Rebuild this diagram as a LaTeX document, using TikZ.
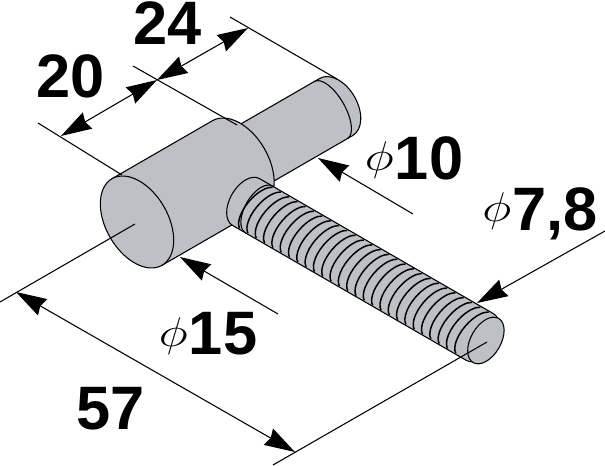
\documentclass[tikz,border=0pt]{standalone}
\usepackage{fontspec}
\setmainfont{Liberation Sans}
\usetikzlibrary{arrows.meta}
\definecolor{Gr}{HTML}{BDC0C6}
\newcommand{\Dia}{\raisebox{6.5pt}{\scalebox{1.5}[1.25]{\Huge$\phi$}}\hspace{1pt}}
\tikzset{
	Fl/.tip={Stealth[length=23pt,width=14pt,inset=2pt]},
	piece/.style={draw=black,fill=Gr,line width=0.8pt,line join=round},
	trait/.style={draw=black,line width=0.8pt},
	filet/.style={draw=black,line width=1.1pt},
	cote/.style={font=\fontsize{46}{46}\selectfont\bfseries,inner sep=0pt}
}
\begin{document}
\begin{tikzpicture}[x=0.75pt,y=-0.75pt]
	\useasboundingbox (0,0) rectangle (605,466);
	\begin{scope}[shift={(137,222)},rotate=30]
		\path[piece] (110,-33) -- (230,-33) arc[start angle=-90,end angle=90,x radius=21,y radius=33] -- (110,33) -- cycle;
		\path[trait] (224,-33) arc[start angle=-90,end angle=90,x radius=14,y radius=33];
		\path[piece] (0,-50) -- (116,-50) arc[start angle=-90,end angle=90,x radius=31,y radius=50] -- (0,50) -- cycle;
		\path[piece] (0,0) ellipse [x radius=31,y radius=50];
	\end{scope}
	\begin{scope}[shift={(246,202)},rotate=-30]
		\path[piece] (15,-27) -- (0,-27) arc[start angle=-90,end angle=-270,x radius=16,y radius=27] -- (15,27) -- cycle;
		\path[piece] (15,-27) -- (270,-27) arc[start angle=-90,end angle=90,x radius=17,y radius=27] -- (15,27) arc[start angle=90,end angle=270,x radius=14,y radius=27] -- cycle;
		\begin{scope}[xslant=0.15]
			\foreach \u in {0,...,26}
				\path[filet] (15+\u*9.6,0) ++(105:13 and 27) arc[start angle=105,end angle=255,x radius=13,y radius=27];
		\end{scope}
		\path[piece] (277,0) ellipse [x radius=15,y radius=25.5];
	\end{scope}
	\coordinate (Ha) at (38,123);
	\coordinate (Hb) at (122,175);
	\coordinate (Ma) at (133,66);
	\coordinate (Mb) at (237,125);
	\coordinate (Da) at (230,17);
	\coordinate (Db) at (337,79);
	\coordinate (Ga) at (61,136);
	\coordinate (Gm) at (157,80);
	\coordinate (Gb) at (248,28);
	\coordinate (Pa) at (318,158);
	\coordinate (Pb) at (413,214);
	\coordinate (Qa) at (477,303);
	\coordinate (Qb) at (605,231);
	\coordinate (Ra) at (180,257);
	\coordinate (Rb) at (278,314);
	\coordinate (Sa) at (0,302);
	\coordinate (Sb) at (135,224);
	\coordinate (Ta) at (273,465);
	\coordinate (Tb) at (487,342);
	\coordinate (Ua) at (16,292);
	\coordinate (Ub) at (295,452);
	\draw[trait] (Ha) -- (Hb);
	\draw[trait] (Ma) -- (Mb);
	\draw[trait] (Da) -- (Db);
	\draw[trait] (Sa) -- (Sb);
	\draw[trait] (Ta) -- (Tb);
	\draw[trait,{Fl}-{Fl}] (Ga) -- (Gm);
	\draw[trait,{Fl}-{Fl}] (Gm) -- (Gb);
	\draw[trait,{Fl}-{Fl}] (Ua) -- (Ub);
	\draw[trait,{Fl}-] (Pa) -- (Pb);
	\draw[trait,{Fl}-] (Qa) -- (Qb);
	\draw[trait,{Fl}-] (Ra) -- (Rb);
	\node (Vi) at (168,23) [cote] {24};
	\node (Ve) at (71,76) [cote] {20};
	\node (Di) at (414,158) [cote] {\Dia10};
	\node (Se) at (540,214) [cote] {\Dia7,8};
	\node (Qu) at (208,334) [cote] {\Dia15};
	\node (Ci) at (111,409) [cote] {57};
\end{tikzpicture}
\end{document}
